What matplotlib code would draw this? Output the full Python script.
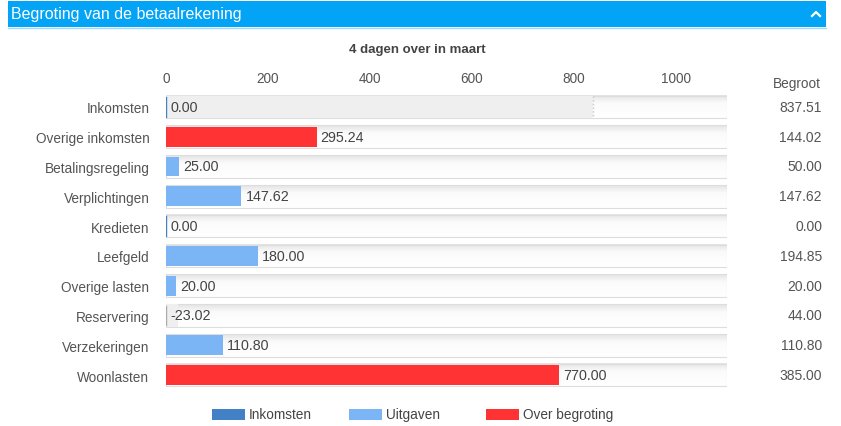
import matplotlib
matplotlib.use("Agg")
import numpy as np
import matplotlib.pyplot as plt
from matplotlib.patches import Rectangle
from matplotlib.lines import Line2D
from matplotlib.colors import LinearSegmentedColormap

plt.rcParams['font.family'] = ['Liberation Sans', 'DejaVu Sans']

categories = ["Inkomsten", "Overige inkomsten", "Betalingsregeling", "Verplichtingen",
              "Kredieten", "Leefgeld", "Overige lasten", "Reservering",
              "Verzekeringen", "Woonlasten"]
actual = [0.00, 295.24, 25.00, 147.62, 0.00, 180.00, 20.00, -23.02, 110.80, 770.00]
budget = [837.51, 144.02, 50.00, 147.62, 0.00, 194.85, 20.00, 44.00, 110.80, 385.00]
series = ["Inkomsten", "Over begroting", "Uitgaven", "Uitgaven", "Uitgaven",
          "Uitgaven", "Uitgaven", "Uitgaven", "Uitgaven", "Over begroting"]
legend_names = ["Inkomsten", "Uitgaven", "Over begroting"]
colors = {"Inkomsten": "#4281C6", "Uitgaven": "#7CB5F5", "Over begroting": "#FF3333"}
xticks = [0, 200, 400, 600, 800, 1000]
title = "4 dagen over in maart"
header = "Begroting van de betaalrekening"

W, H = 841, 427
fig = plt.figure(figsize=(W / 100, H / 100), dpi=100)

# header bar
fig.patches.append(Rectangle((8 / W, 1 - 28 / H), 818 / W, 26 / H, transform=fig.transFigure,
                             facecolor="#03A3F6", edgecolor="none"))
fig.lines.append(Line2D([8 / W, 826 / W], [1 - 29 / H, 1 - 29 / H], transform=fig.transFigure,
                        color="#9fd8fb", lw=1))
fig.text(11 / W, 1 - 15 / H, header, color="white", fontsize=11.5, va="center", ha="left")
fig.lines.append(Line2D([812 / W, 816 / W, 820 / W], [1 - 17 / H, 1 - 13 / H, 1 - 17 / H],
                        transform=fig.transFigure, color="white", lw=1.6))

fig.text(417 / W, 1 - 50 / H, title, color="#444444", fontsize=9.5, fontweight="bold",
         ha="center", va="center")

left, right = 166 / W, 727 / W
top, bottom = 1 - 93 / H, 1 - 391 / H
ax = fig.add_axes([left, bottom, right - left, top - bottom])
xmax = 1100
ax.set_xlim(0, xmax)
ax.set_ylim(len(categories) - 0.5, -0.5)
for s in ax.spines.values():
    s.set_visible(False)
ax.xaxis.tick_top()
ax.set_xticks(xticks)
ax.set_xticklabels([str(t) for t in xticks])
ax.tick_params(axis="x", length=0, pad=5, labelsize=9.8, labelcolor="#555555")
ax.set_yticks(range(len(categories)))
ax.set_yticklabels(categories)
ax.tick_params(axis="y", length=0, pad=12, labelsize=9.8, labelcolor="#555555")

grad = LinearSegmentedColormap.from_list("g", [(0, "#e4e4e4"), (0.35, "#fbfbfb"), (1, "#ffffff")])
gimg = np.linspace(0, 1, 50).reshape(-1, 1)

track_h = 0.76
bar_h = 0.66
for i, (a, b, s) in enumerate(zip(actual, budget, series)):
    # track
    ax.imshow(gimg, cmap=grad, aspect="auto", interpolation="bilinear",
              extent=(0, xmax, i + track_h / 2, i - track_h / 2), zorder=1)
    ax.add_patch(Rectangle((0, i - track_h / 2), xmax, track_h, facecolor="none",
                           edgecolor="#dddddd", lw=0.8, zorder=1.1))
    if s == "Inkomsten":
        ax.add_patch(Rectangle((0, i - track_h / 2), b, track_h, facecolor="#efefef",
                               edgecolor="none", zorder=1.2))
        ax.plot([b, b], [i - track_h / 2, i + track_h / 2], ls=":", color="#c8c8c8", lw=1, zorder=1.3)
    if a < 0:
        ax.add_patch(Rectangle((0, i - track_h / 2), -a, track_h, facecolor="#efefef",
                               edgecolor="none", zorder=1.2))
    if a > 0:
        ax.barh(i, a, height=bar_h, color=colors[s], zorder=2)
    else:
        ax.plot([0, 0], [i - bar_h / 2, i + bar_h / 2],
                color=colors["Inkomsten"] if a == 0 else "#aaaaaa", lw=1, zorder=2)
    ax.annotate(f"{a:.2f}", (max(a, 0), i), xytext=(3, 0), textcoords="offset points",
                va="center", ha="left", fontsize=10.3, color="#444444", zorder=3)
    ax.annotate(f"{b:.2f}", (1, i), xycoords=("axes fraction", "data"),
                xytext=(95 / 100 * 72, 0), textcoords="offset points",
                va="center", ha="right", fontsize=10, color="#555555")

fig.text(821 / W, 1 - 84 / H, "Begroot", ha="right", va="center", fontsize=9.8, color="#555555")

# legend
lx = [212, 349, 486]
for name, x in zip(legend_names, lx):
    fig.patches.append(Rectangle((x / W, 1 - 421 / H), 33 / W, 11 / H, transform=fig.transFigure,
                                 facecolor=colors[name], edgecolor="none"))
    fig.text((x + 37) / W, 1 - 415 / H, name, ha="left", va="center", fontsize=9.8, color="#444444")

fig.savefig("out.png", dpi=100)
